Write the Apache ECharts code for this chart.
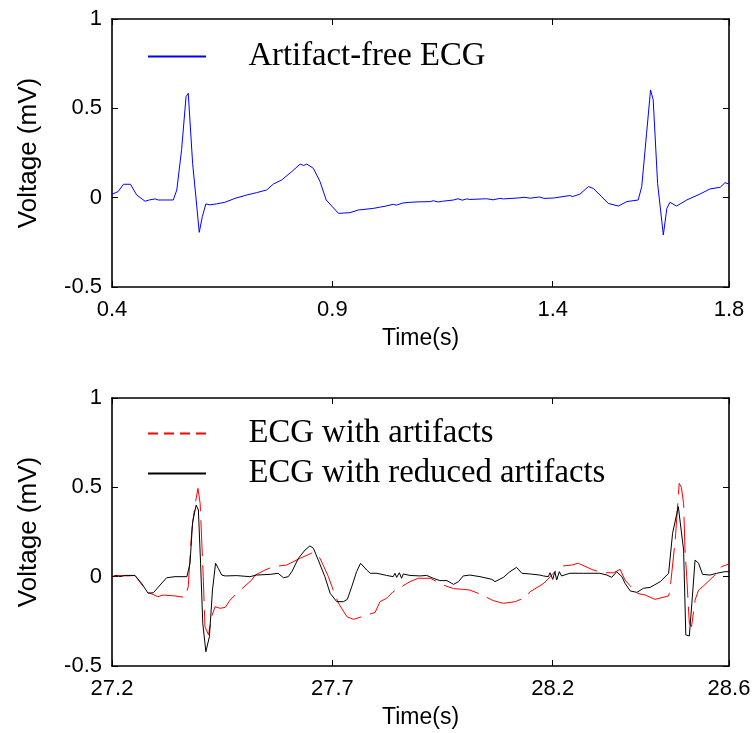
<!DOCTYPE html>
<html>
<head>
<meta charset="utf-8">
<script src="https://cdn.jsdelivr.net/npm/echarts@6/dist/echarts.min.js"></script>
<style>
html,body{margin:0;padding:0;background:#fff;}
#chart{width:756px;height:733px;}
</style>
</head>
<body>
<div id="chart"></div>
<script>
// ---- Top panel: artifact-free ECG ----
const topTicks = [0.4, 0.9, 1.4, 1.8];
const cleanTime = [0.400,0.414,0.426,0.442,0.456,0.475,0.486,0.498,0.505,0.539,0.547,0.558,0.568,0.573,0.583,0.591,0.598,0.605,0.613,0.622,0.637,0.656,0.679,0.706,0.728,0.751,0.766,0.785,0.808,0.827,0.835,0.842,0.857,0.872,0.886,0.914,0.940,0.959,0.993,1.010,1.020,1.038,1.045,1.060,1.076,1.090,1.122,1.129,1.140,1.150,1.175,1.185,1.195,1.205,1.212,1.250,1.265,1.280,1.288,1.320,1.335,1.349,1.370,1.380,1.402,1.439,1.445,1.462,1.481,1.492,1.511,1.526,1.549,1.568,1.594,1.602,1.613,1.622,1.628,1.638,1.651,1.659,1.666,1.681,1.704,1.734,1.757,1.780,1.791,1.800];
const cleanVolt = [0.019,0.034,0.075,0.075,0.015,-0.020,-0.012,-0.007,-0.013,-0.013,0.043,0.270,0.565,0.584,0.190,-0.013,-0.194,-0.106,-0.035,-0.040,-0.035,-0.026,-0.004,0.015,0.028,0.043,0.076,0.099,0.146,0.188,0.180,0.188,0.164,0.090,-0.013,-0.088,-0.084,-0.069,-0.060,-0.052,-0.048,-0.037,-0.042,-0.030,-0.026,-0.024,-0.022,-0.017,-0.024,-0.020,-0.013,-0.006,-0.014,-0.007,-0.010,-0.006,-0.012,-0.004,-0.007,-0.002,0.002,-0.003,0.004,-0.004,-0.002,0.012,0.006,0.020,0.062,0.052,0.006,-0.032,-0.047,-0.022,-0.013,0.062,0.360,0.603,0.547,0.080,-0.209,-0.060,-0.026,-0.047,-0.013,0.020,0.049,0.058,0.084,0.076];

// ---- Bottom panel ----
const bottomTicks = [27.2, 27.7, 28.2, 28.6];
const artifactTime = [27.200,27.215,27.235,27.252,27.271,27.279,27.304,27.316,27.343,27.366,27.373,27.381,27.389,27.395,27.400,27.407,27.411,27.419,27.426,27.434,27.445,27.457,27.468,27.487,27.517,27.525,27.547,27.566,27.596,27.627,27.657,27.672,27.691,27.702,27.714,27.733,27.748,27.767,27.797,27.808,27.823,27.838,27.857,27.876,27.895,27.922,27.952,27.975,27.997,28.012,28.035,28.065,28.088,28.115,28.133,28.149,28.180,28.205,28.224,28.243,28.258,28.292,28.315,28.338,28.353,28.364,28.391,28.410,28.432,28.463,28.466,28.478,28.487,28.492,28.497,28.500,28.504,28.510,28.515,28.523,28.531,28.542,28.568,28.583,28.600];
const artifactVolt = [0,0.007,0.004,0.007,-0.056,-0.084,-0.112,-0.103,-0.108,-0.116,-0.056,0.261,0.410,0.494,0.410,0,-0.280,-0.326,-0.224,-0.168,-0.177,-0.172,-0.131,-0.084,-0.019,0.009,0.037,0.056,0.065,0.103,0.136,0.103,0,-0.075,-0.149,-0.224,-0.239,-0.224,-0.200,-0.140,-0.121,-0.084,-0.056,-0.028,-0.009,-0.009,-0.047,-0.067,-0.071,-0.075,-0.097,-0.134,-0.149,-0.140,-0.121,-0.084,-0.037,0.028,0.060,0.065,0.075,0.037,0.022,0.022,0.041,-0.019,-0.093,-0.103,-0.127,-0.108,-0.075,0.205,0.522,0.500,0.410,0.159,0,-0.261,-0.280,-0.131,-0.075,-0.052,0.009,0.056,0.071];
const reducedTime = [27.200,27.210,27.218,27.230,27.252,27.267,27.282,27.294,27.309,27.324,27.343,27.370,27.377,27.383,27.391,27.396,27.401,27.406,27.413,27.421,27.428,27.435,27.441,27.449,27.457,27.483,27.513,27.528,27.559,27.577,27.589,27.600,27.608,27.623,27.638,27.649,27.657,27.668,27.683,27.695,27.710,27.725,27.734,27.744,27.755,27.764,27.778,27.786,27.801,27.823,27.838,27.842,27.846,27.852,27.857,27.861,27.876,27.899,27.914,27.929,27.944,27.960,27.975,27.986,27.997,28.012,28.035,28.062,28.069,28.088,28.103,28.118,28.130,28.149,28.171,28.179,28.183,28.190,28.194,28.200,28.205,28.209,28.215,28.220,28.239,28.270,28.307,28.323,28.334,28.345,28.357,28.364,28.376,28.391,28.406,28.421,28.444,28.463,28.472,28.485,28.497,28.502,28.510,28.518,28.523,28.531,28.540,28.557,28.572,28.591,28.600];
const reducedVolt = [0,0.007,0,0.007,0.007,-0.037,-0.093,-0.090,-0.047,-0.006,0,0,0.075,0.308,0.401,0.373,0.075,-0.261,-0.420,-0.336,-0.075,0.075,0.047,0.009,0.004,0.006,0,0.009,0.013,0.019,-0.006,0,0.028,0.103,0.149,0.172,0.159,0.093,0,-0.093,-0.140,-0.140,-0.127,-0.056,0.028,0.075,0.037,0.019,0.019,0.007,0,0.019,-0.004,0.022,-0.009,0.015,0.007,0.004,0.007,-0.009,-0.022,-0.022,-0.043,-0.028,0.004,0.009,0,-0.015,-0.028,-0.004,0.028,0.052,0.019,0.015,0.009,0.004,0.015,0,0.022,-0.015,0.028,-0.019,0.028,0.004,0.019,0.019,0.019,0.009,-0.004,0.028,0,-0.037,-0.080,-0.088,-0.065,-0.060,-0.028,0.019,0.243,0.392,0.149,-0.326,-0.332,-0.075,0.093,0.075,0.013,0.009,0.019,0.028,0.028];

const xName = 'Time(s)';
const yName = 'Voltage (mV)';

function zip(a, b) { return a.map((v, i) => [v, b[i]]); }

const sansFont = "'Liberation Sans', Arial, Helvetica, sans-serif";
const serifFont = "'Liberation Serif', 'Times New Roman', serif";
const axisCol = '#000';

function xAxes(gridIndex, ticks) {
  const base = {
    type: 'value', gridIndex: gridIndex, min: ticks[0], max: ticks[ticks.length - 1],
    axisLine: { show: true, onZero: false, lineStyle: { color: axisCol, width: 1.6 } },
    axisTick: { show: true, inside: true, length: 6, customValues: ticks, lineStyle: { color: axisCol, width: 1 } },
    splitLine: { show: false }
  };
  return [
    Object.assign({}, base, {
      position: 'bottom',
      name: xName, nameLocation: 'middle', nameGap: 40,
      nameTextStyle: { color: '#000', fontSize: 23, fontFamily: sansFont },
      axisLabel: { show: true, customValues: ticks, color: '#000', fontSize: 22, fontFamily: sansFont, margin: 12 }
    }),
    Object.assign({}, base, { position: 'top', axisLabel: { show: false } })
  ];
}
function yAxes(gridIndex) {
  const base = {
    type: 'value', gridIndex: gridIndex, min: -0.5, max: 1, interval: 0.5,
    axisLine: { show: true, onZero: false, lineStyle: { color: axisCol, width: 1.6 } },
    axisTick: { show: true, inside: true, length: 6, lineStyle: { color: axisCol, width: 1 } },
    splitLine: { show: false }
  };
  return [
    Object.assign({}, base, {
      position: 'left',
      name: yName, nameLocation: 'middle', nameGap: 70,
      nameTextStyle: { color: '#000', fontSize: 26, fontFamily: sansFont },
      axisLabel: { show: true, color: '#000', fontSize: 22, fontFamily: sansFont, margin: 10 }
    }),
    Object.assign({}, base, { position: 'right', axisLabel: { show: false } })
  ];
}

const solidIcon = 'path://M0,0h58v2h-58z';
const dashIcon = 'path://M0,0h10v2h-10z M16,0h10v2h-10z M32,0h10v2h-10z M48,0h10v2h-10z';

const legendBase = {
  orient: 'vertical', left: 148, padding: 0, itemWidth: 59, itemHeight: 2, itemGap: 7,
  selectedMode: false,
  textStyle: { color: '#000', fontSize: 32.7, lineHeight: 32, fontFamily: serifFont, padding: [0, 0, 0, 37] }
};

const option = {
  animation: false,
  backgroundColor: '#fff',
  grid: [
    { left: 112, right: 27, top: 19, height: 268 },
    { left: 112, right: 27, top: 398, height: 268 }
  ],
  xAxis: [].concat(xAxes(0, topTicks), xAxes(1, bottomTicks)),
  yAxis: [].concat(yAxes(0), yAxes(1)),
  legend: [
    Object.assign({}, legendBase, {
      top: 40,
      data: [{ name: 'Artifact-free ECG', icon: solidIcon }]
    }),
    Object.assign({}, legendBase, {
      top: 417,
      data: [
        { name: 'ECG with artifacts', icon: dashIcon },
        { name: 'ECG with reduced artifacts', icon: solidIcon }
      ]
    })
  ],
  series: [
    {
      name: 'Artifact-free ECG', type: 'line', xAxisIndex: 0, yAxisIndex: 0,
      data: zip(cleanTime, cleanVolt), symbol: 'none', showSymbol: false,
      lineStyle: { color: '#0000ff', width: 1 }, itemStyle: { color: '#0000ff' }
    },
    {
      name: 'ECG with artifacts', type: 'line', xAxisIndex: 2, yAxisIndex: 2,
      data: zip(artifactTime, artifactVolt), symbol: 'none', showSymbol: false,
      lineStyle: { color: '#ff0000', width: 1, type: [36, 9] }, itemStyle: { color: '#ff0000' }
    },
    {
      name: 'ECG with reduced artifacts', type: 'line', xAxisIndex: 2, yAxisIndex: 2,
      data: zip(reducedTime, reducedVolt), symbol: 'none', showSymbol: false,
      lineStyle: { color: '#000000', width: 1 }, itemStyle: { color: '#000000' }
    }
  ]
};

const chart = echarts.init(document.getElementById('chart'), null, { renderer: 'canvas' });
chart.setOption(option);
</script>
</body>
</html>
